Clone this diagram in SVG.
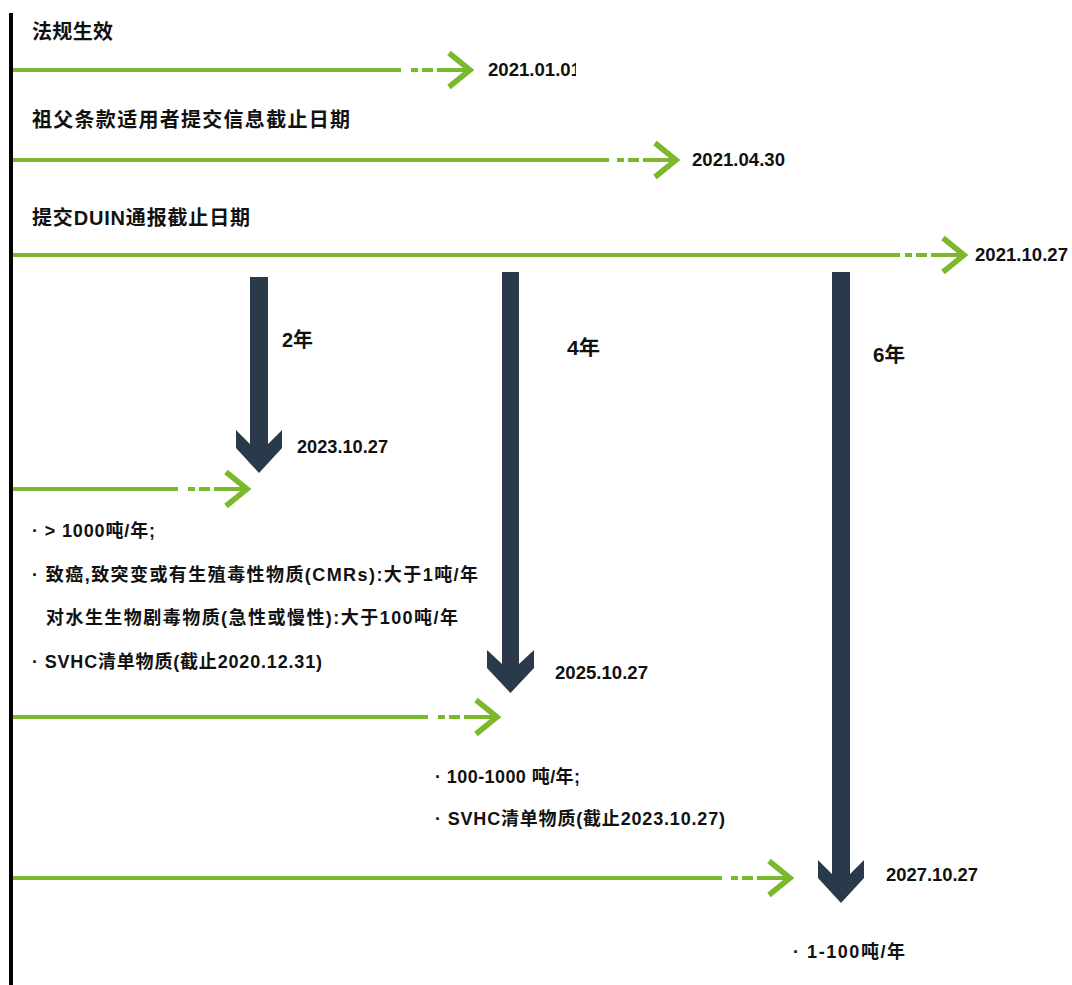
<svg xmlns="http://www.w3.org/2000/svg" width="1072" height="985" viewBox="0 0 1072 985">
<style>
  .t { font-family: "Liberation Sans", "Noto Sans CJK SC", sans-serif; font-weight: bold; fill: #111; }
  .h { font-size: 20px; }
  .d { font-size: 18px; }
  .b { font-size: 18px; }
  .g { stroke: #7ab92b; stroke-width: 4; fill: none; }
  .gc { stroke: #7ab92b; stroke-width: 5.5; fill: none; stroke-linejoin: miter; stroke-linecap: butt; }
  .gs { fill: #7ab92b; }
  .dk { fill: #2b3a4b; }
</style>
<defs>
  <clipPath id="clip1"><rect x="480" y="50" width="96" height="40"/></clipPath>
  <g id="garrow">
    <rect class="gs" x="-59" y="-2" width="7" height="4"/>
    <rect class="gs" x="-48" y="-2" width="11" height="4"/>
    <line class="g" x1="-33" y1="0" x2="-3" y2="0"/>
    <polyline class="gc" points="-21,-17 0,0 -21,17"/>
  </g>
</defs>
<rect width="1072" height="985" fill="#ffffff"/>
<g id="timeline-axis">
  <line x1="11" y1="13" x2="11" y2="985" stroke="#000" stroke-width="4"/>
</g>
<g id="connectors">
  <line class="g" x1="13" y1="70" x2="401" y2="70"/>
  <use href="#garrow" transform="translate(470,70)"/>
  <line class="g" x1="13" y1="160" x2="609" y2="160"/>
  <use href="#garrow" transform="translate(676,160)"/>
  <line class="g" x1="13" y1="255" x2="900" y2="255"/>
  <use href="#garrow" transform="translate(964,255)"/>
  <line class="g" x1="13" y1="489" x2="178" y2="489"/>
  <use href="#garrow" transform="translate(247,489)"/>
  <line class="g" x1="13" y1="717" x2="428" y2="717"/>
  <use href="#garrow" transform="translate(497,717)"/>
  <line class="g" x1="13" y1="878" x2="722" y2="878"/>
  <use href="#garrow" transform="translate(790,878)"/>
</g>
<g id="arrow-2y">
  <polygon class="dk" points="250,277 268,277 268,444 282,430 282,448 259,473 236,448 236,430 250,444"/>
  <text class="t h" x="282" y="347" textLength="31" lengthAdjust="spacingAndGlyphs">2年</text>
</g>
<g id="arrow-4y">
  <polygon class="dk" points="502,272 519,272 519,664 534,650 534,668 510.5,693 487,668 487,650 502,664"/>
  <text class="t h" x="567" y="355" textLength="33" lengthAdjust="spacingAndGlyphs">4年</text>
</g>
<g id="arrow-6y">
  <polygon class="dk" points="832,272 850,272 850,874 864,860 864,878 841,903 818,878 818,860 832,874"/>
  <text class="t h" x="873" y="362" textLength="32" lengthAdjust="spacingAndGlyphs">6年</text>
</g>
<g id="node-effective">
  <text class="t h" x="32" y="39" textLength="81" lengthAdjust="spacing">法规生效</text>
  <g clip-path="url(#clip1)"><text class="t d" x="488" y="76" textLength="93" lengthAdjust="spacingAndGlyphs">2021.01.01</text></g>
</g>
<g id="node-grandfather">
  <text class="t h" x="32" y="127" textLength="318" lengthAdjust="spacing">祖父条款适用者提交信息截止日期</text>
  <text class="t d" x="692" y="166" textLength="93" lengthAdjust="spacingAndGlyphs">2021.04.30</text>
</g>
<g id="node-duin">
  <text class="t h" x="32" y="225" textLength="218" lengthAdjust="spacing">提交DUIN通报截止日期</text>
  <text class="t d" x="975" y="261" textLength="93" lengthAdjust="spacingAndGlyphs">2021.10.27</text>
</g>
<g id="node-2023">
  <text class="t d" x="297" y="453" textLength="91" lengthAdjust="spacingAndGlyphs">2023.10.27</text>
  <text class="t b" x="32" y="537" textLength="123" lengthAdjust="spacing">· &gt; 1000吨/年;</text>
  <text class="t b" x="32" y="581" textLength="446" lengthAdjust="spacing">· 致癌,致突变或有生殖毒性物质(CMRs):大于1吨/年</text>
  <text class="t b" x="46" y="624" textLength="412" lengthAdjust="spacing">对水生生物剧毒物质(急性或慢性):大于100吨/年</text>
  <text class="t b" x="32" y="668" textLength="290" lengthAdjust="spacing">· SVHC清单物质(截止2020.12.31)</text>
</g>
<g id="node-2025">
  <text class="t d" x="555" y="679" textLength="93" lengthAdjust="spacingAndGlyphs">2025.10.27</text>
  <text class="t b" x="435" y="783" textLength="145" lengthAdjust="spacing">· 100-1000 吨/年;</text>
  <text class="t b" x="435" y="825" textLength="290" lengthAdjust="spacing">· SVHC清单物质(截止2023.10.27)</text>
</g>
<g id="node-2027">
  <text class="t d" x="886" y="881" textLength="92" lengthAdjust="spacingAndGlyphs">2027.10.27</text>
  <text class="t b" x="793" y="958" textLength="112" lengthAdjust="spacing">· 1-100吨/年</text>
</g>
</svg>
